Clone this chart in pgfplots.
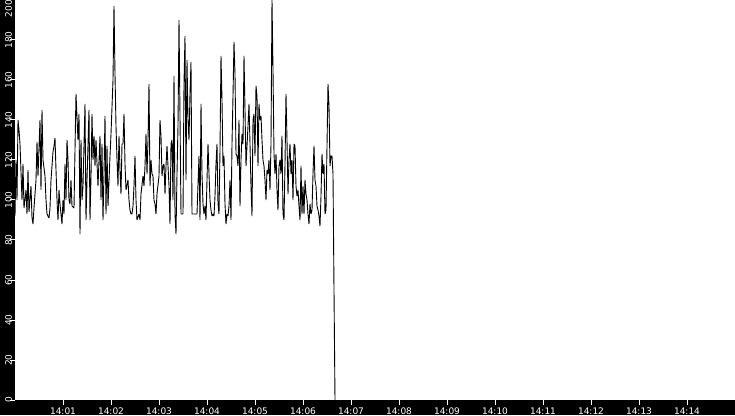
\documentclass[border=0pt]{standalone}
\usepackage{pgfplots}
\pgfplotsset{compat=1.18}
\usepackage{fontspec}
\setmainfont{DejaVu Sans}

% seconds after 14:00, value
\pgfplotstableread{
t v
0 92
1.25 120
2.5 100
3.75 140
5 135
6.25 128
8.75 100
10 118
11.25 96
13.75 105
15 93
16.25 115
17.5 94
20 107
21.25 91
22.5 88
23.75 96
26.25 110
27.5 129
28.75 112
31.25 140
32.5 105
33.75 145
35 120
37.5 112
38.75 100
40 93
42.5 91
43.75 96
45 110
47.5 124
48.75 127
50 131
51.25 115
52.5 100
53.75 90
55 105
56.25 98
58.75 88
60 100
61.25 93
62.5 118
63.75 100
65 130
66.25 120
67.5 100
68.75 98
70 110
71.25 97
73.75 96
75 125
76.25 153
78.75 130
80 143
81.25 83
82.5 130
83.75 100
85 107
87.5 148
88.75 90
90 110
92.5 145
93.75 90
95 112
96.25 143
97.5 120
98.75 132
100 117
101.25 130
103.75 107
106.25 132
107.5 100
108.75 128
110 90
111.25 113
112.5 142
113.75 93
115 127
116.25 97
118.75 122
120 133
122.5 160
123.75 197
125 163
126.25 137
127.5 120
128.75 107
130 132
131.25 115
132.5 103
133.75 128
135 128
136.25 143
137.5 118
138.75 105
141.25 110
142.5 100
143.75 95
145 93
146.25 93
147.5 97
148.75 107
150 122
151.25 100
152.5 90
155 93
156.25 90
157.5 103
160 112
161.25 107
162.5 117
163.75 133
165 113
166.25 130
167.5 158
168.75 107
170 120
171.25 113
172.5 112
173.75 100
175 98
176.25 93
177.5 103
180 112
181.25 140
182.5 132
183.75 112
185 117
186.25 118
187.5 103
188.75 117
190 127
192.5 107
193.75 88
195 128
196.25 130
197.5 100
198.75 162
200 93
201.25 83
202.5 113
203.75 137
205 190
206.25 142
207.5 93
210 93
211.25 158
212.5 182
213.75 110
215 170
216.25 140
217.5 130
218.75 153
220 169
221.25 93
227.5 93
228.75 108
230 122
231.25 90
232.5 148
233.75 113
235 98
236.25 93
237.5 97
238.75 90
240 110
241.25 128
242.5 113
243.75 100
245 95
246.25 92
247.5 93
248.75 92
250 102
251.25 118
252.5 128
253.75 98
255 93
256.25 125
257.5 172
258.75 150
260 117
261.25 122
262.5 98
263.75 88
265 93
266.25 92
267.5 97
268.75 110
270 90
271.25 128
272.5 152
273.75 179
275 163
276.25 123
277.5 122
278.75 117
280 140
281.25 97
282.5 120
283.75 133
285 128
286.25 172
287.5 145
288.75 117
290 127
291.25 137
292.5 148
293.75 128
295 107
296.25 92
297.5 140
298.75 143
300 122
301.25 157
302.5 152
303.75 117
305 148
306.25 140
307.5 142
308.75 130
310 120
311.25 117
312.5 110
313.75 100
315 115
316.25 113
317.5 120
318.75 105
320 128
321.25 200
322.5 165
323.75 123
325 113
326.25 123
327.5 105
328.75 95
330 117
331.25 120
332.5 113
333.75 132
335 93
336.25 90
337.5 118
338.75 153
340 130
341.25 103
342.5 120
343.75 128
345 113
346.25 120
347.5 100
348.75 128
350 127
351.25 107
352.5 102
353.75 105
355 97
356.25 90
357.5 117
358.75 93
360 107
361.25 93
362.5 110
363.75 103
365 100
366.25 93
367.5 88
368.75 98
370 93
371.25 95
372.5 113
373.75 127
375 110
376.25 107
377.5 97
378.75 95
380 92
381.25 87
382.5 102
383.75 123
385 113
386.25 118
387.5 93
388.75 95
390 127
391.25 158
392.5 147
393.75 117
395 122
396.25 122
397.5 113
398.75 55
400 0
}\series

\begin{document}
\begin{tikzpicture}
\fill[black] (-15pt,-15pt) rectangle (720pt,400pt);
\begin{axis}[
  at={(0pt,0pt)}, anchor=south west,
  width=720pt, height=400pt, scale only axis,
  xmin=0, xmax=900, ymin=0, ymax=200,
  axis background/.style={fill=white},
  axis line style={draw=none},
  tick pos=left, tick align=outside,
  major tick length=5pt,
  tick style={white, line width=1pt},
  xtick={60,120,...,840},
  xticklabels={14:01,14:02,14:03,14:04,14:05,14:06,14:07,14:08,14:09,14:10,14:11,14:12,14:13,14:14},
  ytick={0,20,...,180},
  extra y ticks={200},
  extra y tick style={yticklabel style={anchor=base east}},
  /pgf/number format/assume math mode=true,
  ticklabel style={text=white, font=\fontsize{9}{10}\selectfont, inner sep=0pt},
  yticklabel style={xshift=2pt, rotate=90, anchor=base},
  xticklabel style={anchor=base, yshift=-9pt},
]
\addplot[black, line width=0.9pt, line join=bevel, no marks] table[x=t, y=v] {\series};
\end{axis}
\pgfresetboundingbox
\path[use as bounding box] (-15pt,-15pt) rectangle (720pt,400pt);
\end{tikzpicture}
\end{document}
